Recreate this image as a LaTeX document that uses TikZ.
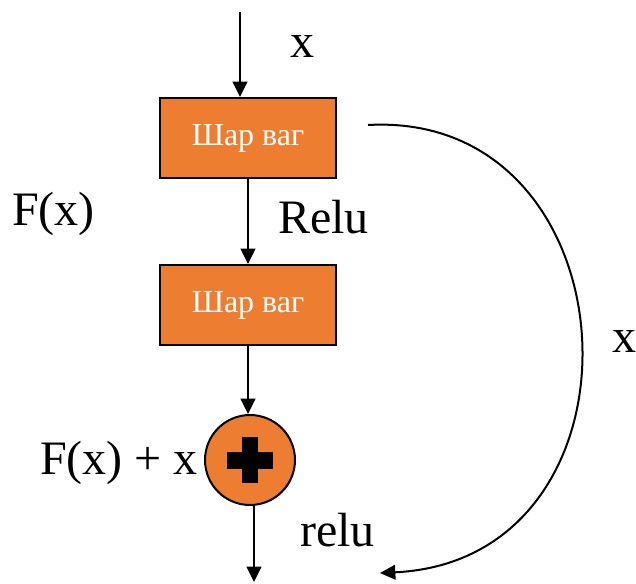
\documentclass[tikz,border=0pt]{standalone}
\usepackage{fontspec}
\setmainfont{Liberation Serif}
\usetikzlibrary{arrows.meta,calc}
\definecolor{boxorange}{HTML}{ED7D31}
\begin{document}
\begin{tikzpicture}[x=0.75pt,y=-0.75pt,
  layerbox/.style={draw=black,line width=1.5pt,fill=boxorange,minimum width=132pt,minimum height=60pt,inner sep=0pt,text=white,font=\fontsize{24}{28}\selectfont},
  sumnode/.style={circle,draw=black,line width=1.5pt,fill=boxorange,minimum size=67.5pt,inner sep=0pt},
  arr/.style={line width=1.5pt,-{Triangle[length=11.5pt,width=11pt]}},
  lbl/.style={font=\fontsize{36}{40}\selectfont,inner sep=0pt}]
\useasboundingbox (0,0) rectangle (636,583);
\node[layerbox] (b1) at (248,138) {Шар ваг};
\node[layerbox] (b2) at (248,305) {Шар ваг};
\node[sumnode] (c) at (250,460) {};
\fill[black] (226.5,452) rectangle (272.5,469);
\fill[black] (241.5,437) rectangle (257.5,483);
\coordinate (top) at (240,12);
\coordinate (bot) at (254,582);
\coordinate (cs) at (368,125);
\coordinate (ce) at (380,573);
\draw[arr] (top) -- (top |- b1.north);
\draw[arr] (b1.south) -- (b2.north);
\draw[arr] (b2.south) -- (b2.south |- c.north);
\draw[arr] (c.south -| bot) -- (bot);
\draw[arr] (cs) .. controls (638,110) and (660,560) .. (ce);
\node[lbl,anchor=base west] (lx1) at (290,57) {x};
\node[lbl,anchor=base west] (lf) at (12,225) {F(x)};
\node[lbl,anchor=base west] (lr1) at (278,233) {Relu};
\node[lbl,anchor=base west] (lx2) at (612,352) {x};
\node[lbl,anchor=base west] (lfx) at (40,474) {F(x) + x};
\node[lbl,anchor=base west] (lr2) at (300,546) {relu};
\end{tikzpicture}
\end{document}
